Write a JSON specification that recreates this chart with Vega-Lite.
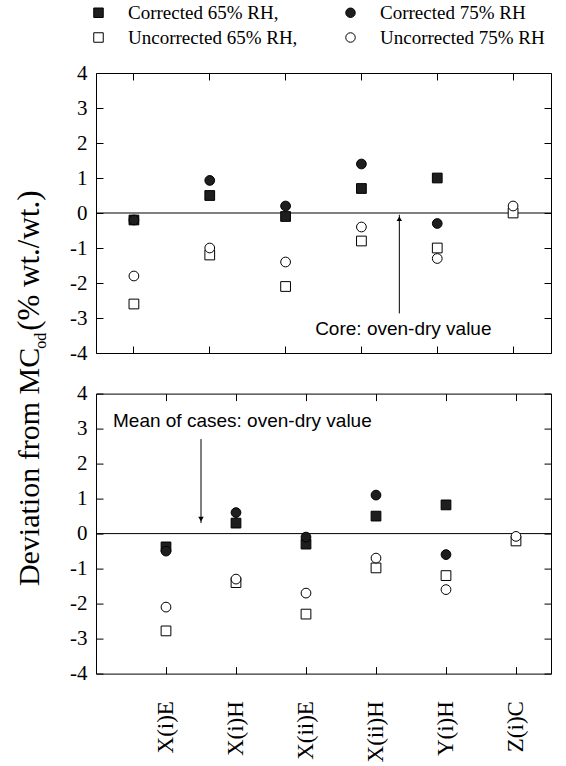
{
  "$schema": "https://vega.github.io/schema/vega-lite/v6.json",
  "padding": {"left": 12, "top": 3, "right": 0, "bottom": 0},
  "bounds": "flush",
  "spacing": 40.6,
  "resolve": {"scale": {"x": "independent", "y": "independent"}},
  "config": {
    "view": {"stroke": "black", "strokeWidth": 1},
    "axis": {
      "grid": false, "domain": false, "tickColor": "black", "tickWidth": 1, "tickSize": -7,
      "labelColor": "black", "labelFont": "Liberation Serif", "titleFont": "Liberation Serif",
      "titleColor": "black", "titleFontWeight": "normal", "labelFlush": false, "labelOverlap": false
    },
    "legend": {
      "orient": "none", "legendX": -7, "legendY": -70, "columns": 2, "direction": "horizontal", "title": null,
      "labelFont": "Liberation Serif", "labelFontSize": 19, "labelColor": "black",
      "symbolSize": 90, "symbolStrokeWidth": 1,
      "labelOffset": 20, "columnPadding": 43, "rowPadding": 5, "labelLimit": 300
    }
  },
  "vconcat": [
    {
      "width": 455,
      "height": 280,
      "layer": [
        {
          "data": {"values": [{"z": 0}]},
          "mark": {"type": "rule", "color": "black", "strokeWidth": 1},
          "encoding": {"y": {"field": "z", "type": "quantitative", "scale": {"domain": [-4, 4], "nice": false, "zero": false}, "axis": null}}
        },
        {
          "data": {"values": [
            {"cat": "X(i)E", "series": "Corrected 65% RH,", "v": -0.2},
            {"cat": "X(i)E", "series": "Uncorrected 65% RH,", "v": -2.6},
            {"cat": "X(i)E", "series": "Corrected 75% RH", "v": -0.2},
            {"cat": "X(i)E", "series": "Uncorrected 75% RH", "v": -1.8},
            {"cat": "X(i)H", "series": "Corrected 65% RH,", "v": 0.5},
            {"cat": "X(i)H", "series": "Uncorrected 65% RH,", "v": -1.2},
            {"cat": "X(i)H", "series": "Corrected 75% RH", "v": 0.93},
            {"cat": "X(i)H", "series": "Uncorrected 75% RH", "v": -1.0},
            {"cat": "X(ii)E", "series": "Corrected 65% RH,", "v": -0.1},
            {"cat": "X(ii)E", "series": "Uncorrected 65% RH,", "v": -2.1},
            {"cat": "X(ii)E", "series": "Corrected 75% RH", "v": 0.2},
            {"cat": "X(ii)E", "series": "Uncorrected 75% RH", "v": -1.4},
            {"cat": "X(ii)H", "series": "Corrected 65% RH,", "v": 0.7},
            {"cat": "X(ii)H", "series": "Uncorrected 65% RH,", "v": -0.8},
            {"cat": "X(ii)H", "series": "Corrected 75% RH", "v": 1.4},
            {"cat": "X(ii)H", "series": "Uncorrected 75% RH", "v": -0.4},
            {"cat": "Y(i)H", "series": "Corrected 65% RH,", "v": 1.0},
            {"cat": "Y(i)H", "series": "Uncorrected 65% RH,", "v": -1.0},
            {"cat": "Y(i)H", "series": "Corrected 75% RH", "v": -0.3},
            {"cat": "Y(i)H", "series": "Uncorrected 75% RH", "v": -1.3},
            {"cat": "Z(i)C", "series": "Uncorrected 65% RH,", "v": 0.0},
            {"cat": "Z(i)C", "series": "Uncorrected 75% RH", "v": 0.2}
          ]},
          "mark": {"type": "point", "filled": true, "strokeWidth": 1, "size": 95, "opacity": 1},
          "encoding": {
            "x": {"field": "cat", "type": "nominal",
              "scale": {"type": "band", "domain": ["X(i)E", "X(i)H", "X(ii)E", "X(ii)H", "Y(i)H", "Z(i)C"], "paddingInner": 0, "paddingOuter": 0},
              "axis": {"orient": "bottom", "labels": false, "title": "od", "titleFont": "Liberation Serif", "titleFontSize": 16, "titleAngle": 270,
                "titleX": -51, "titleY": -12.7, "titleAlign": "center", "titleBaseline": "alphabetic"}},
            "y": {"field": "v", "type": "quantitative", "scale": {"domain": [-4, 4], "nice": false, "zero": false},
              "axis": {"orient": "left", "values": [-4, -3, -2, -1, 0, 1, 2, 3, 4], "labelExpr": "datum.value < 0 ? '-' + abs(datum.value) : '' + datum.value",
                "labelFont": "Liberation Serif", "labelFontSize": 21, "labelPadding": 16,
                "title": "Deviation from MC", "titleFont": "Liberation Serif", "titleFontSize": 30, "titleAngle": 270, "titleX": -58, "titleY": 274.3,
                "titleAlign": "right", "titleBaseline": "alphabetic"}},
            "shape": {"field": "series", "type": "nominal",
              "scale": {"domain": ["Corrected 65% RH,", "Corrected 75% RH", "Uncorrected 65% RH,", "Uncorrected 75% RH"], "range": ["square", "circle", "square", "circle"]}},
            "fill": {"field": "series", "type": "nominal",
              "scale": {"domain": ["Corrected 65% RH,", "Corrected 75% RH", "Uncorrected 65% RH,", "Uncorrected 75% RH"], "range": ["#1e1e1e", "#1e1e1e", "white", "white"]}},
            "stroke": {"field": "series", "type": "nominal",
              "scale": {"domain": ["Corrected 65% RH,", "Corrected 75% RH", "Uncorrected 65% RH,", "Uncorrected 75% RH"], "range": ["black", "black", "black", "black"]}}
          }
        },
        {
          "data": {"values": [{"cat": "X(ii)H", "y": -2.87, "y2": -0.05}]},
          "mark": {"type": "rule", "color": "black", "strokeWidth": 1},
          "encoding": {
            "x": {"field": "cat", "type": "nominal", "bandPosition": 1,
              "scale": {"type": "band", "domain": ["X(i)E", "X(i)H", "X(ii)E", "X(ii)H", "Y(i)H", "Z(i)C"], "paddingInner": 0, "paddingOuter": 0},
              "axis": {"orient": "top", "labels": false, "title": "(% wt./wt.)", "titleFont": "Liberation Serif", "titleFontSize": 31, "titleAngle": 270,
                "titleX": -58, "titleY": 257.3, "titleAlign": "left", "titleBaseline": "alphabetic"}},
            "y": {"field": "y", "type": "quantitative", "scale": {"domain": [-4, 4], "nice": false, "zero": false},
              "axis": {"orient": "right", "values": [-4, -3, -2, -1, 0, 1, 2, 3, 4], "labels": false, "title": null}},
            "y2": {"field": "y2"}
          }
        },
        {
          "data": {"values": [{"cat": "X(ii)H", "y2": -0.05}]},
          "mark": {"type": "point", "shape": "triangle-up", "filled": true, "color": "black", "size": 30, "yOffset": 4, "opacity": 1},
          "encoding": {
            "x": {"field": "cat", "type": "nominal", "bandPosition": 1, "axis": null},
            "y": {"field": "y2", "type": "quantitative", "axis": null}
          }
        },
        {
          "data": {"values": [{"cat": "X(ii)H", "y": -3.3, "label": "Core: oven-dry value"}]},
          "mark": {"type": "text", "font": "Liberation Sans", "fontSize": 19, "color": "black", "align": "center", "baseline": "middle", "dx": 4},
          "encoding": {
            "x": {"field": "cat", "type": "nominal", "bandPosition": 1, "axis": null},
            "y": {"field": "y", "type": "quantitative", "axis": null},
            "text": {"field": "label"}
          }
        }
      ]
    },
    {
      "width": 455,
      "height": 280,
      "layer": [
        {
          "data": {"values": [{"z": 0}]},
          "mark": {"type": "rule", "color": "black", "strokeWidth": 1},
          "encoding": {"y": {"field": "z", "type": "quantitative", "scale": {"domain": [-4, 4], "nice": false, "zero": false}, "axis": null}}
        },
        {
          "data": {"values": [
            {"cat": "X(i)E", "series": "Corrected 65% RH,", "v": -0.38},
            {"cat": "X(i)E", "series": "Uncorrected 65% RH,", "v": -2.78},
            {"cat": "X(i)E", "series": "Corrected 75% RH", "v": -0.5},
            {"cat": "X(i)E", "series": "Uncorrected 75% RH", "v": -2.1},
            {"cat": "X(i)H", "series": "Corrected 65% RH,", "v": 0.3},
            {"cat": "X(i)H", "series": "Uncorrected 65% RH,", "v": -1.4},
            {"cat": "X(i)H", "series": "Corrected 75% RH", "v": 0.6},
            {"cat": "X(i)H", "series": "Uncorrected 75% RH", "v": -1.3},
            {"cat": "X(ii)E", "series": "Corrected 65% RH,", "v": -0.3},
            {"cat": "X(ii)E", "series": "Uncorrected 65% RH,", "v": -2.3},
            {"cat": "X(ii)E", "series": "Corrected 75% RH", "v": -0.1},
            {"cat": "X(ii)E", "series": "Uncorrected 75% RH", "v": -1.7},
            {"cat": "X(ii)H", "series": "Corrected 65% RH,", "v": 0.5},
            {"cat": "X(ii)H", "series": "Uncorrected 65% RH,", "v": -0.98},
            {"cat": "X(ii)H", "series": "Corrected 75% RH", "v": 1.1},
            {"cat": "X(ii)H", "series": "Uncorrected 75% RH", "v": -0.7},
            {"cat": "Y(i)H", "series": "Corrected 65% RH,", "v": 0.82},
            {"cat": "Y(i)H", "series": "Uncorrected 65% RH,", "v": -1.2},
            {"cat": "Y(i)H", "series": "Corrected 75% RH", "v": -0.6},
            {"cat": "Y(i)H", "series": "Uncorrected 75% RH", "v": -1.6},
            {"cat": "Z(i)C", "series": "Uncorrected 65% RH,", "v": -0.21},
            {"cat": "Z(i)C", "series": "Uncorrected 75% RH", "v": -0.08}
          ]},
          "mark": {"type": "point", "filled": true, "strokeWidth": 1, "size": 95, "opacity": 1},
          "encoding": {
            "x": {"field": "cat", "type": "nominal",
              "scale": {"type": "band", "domain": ["X(i)E", "X(i)H", "X(ii)E", "X(ii)H", "Y(i)H", "Z(i)C"], "paddingInner": 0, "paddingOuter": 0.25, "align": 1},
              "axis": {"orient": "bottom", "labelAngle": 270, "labelFont": "Liberation Serif", "labelFontSize": 23, "labelPadding": 34, "title": null}},
            "y": {"field": "v", "type": "quantitative", "scale": {"domain": [-4, 4], "nice": false, "zero": false},
              "axis": {"orient": "left", "values": [-4, -3, -2, -1, 0, 1, 2, 3, 4], "labelExpr": "datum.value < 0 ? '-' + abs(datum.value) : '' + datum.value",
                "labelFont": "Liberation Serif", "labelFontSize": 21, "labelPadding": 16, "title": null}},
            "shape": {"field": "series", "type": "nominal",
              "scale": {"domain": ["Corrected 65% RH,", "Corrected 75% RH", "Uncorrected 65% RH,", "Uncorrected 75% RH"], "range": ["square", "circle", "square", "circle"]}},
            "fill": {"field": "series", "type": "nominal",
              "scale": {"domain": ["Corrected 65% RH,", "Corrected 75% RH", "Uncorrected 65% RH,", "Uncorrected 75% RH"], "range": ["#1e1e1e", "#1e1e1e", "white", "white"]}},
            "stroke": {"field": "series", "type": "nominal",
              "scale": {"domain": ["Corrected 65% RH,", "Corrected 75% RH", "Uncorrected 65% RH,", "Uncorrected 75% RH"], "range": ["black", "black", "black", "black"]}}
          }
        },
        {
          "data": {"values": [{"cat": "X(i)E", "y": 2.7, "y2": 0.3}]},
          "mark": {"type": "rule", "color": "black", "strokeWidth": 1},
          "encoding": {
            "x": {"field": "cat", "type": "nominal", "bandPosition": 1,
              "scale": {"type": "band", "domain": ["X(i)E", "X(i)H", "X(ii)E", "X(ii)H", "Y(i)H", "Z(i)C"], "paddingInner": 0, "paddingOuter": 0.25, "align": 1},
              "axis": {"orient": "top", "labels": false, "title": null}},
            "y": {"field": "y", "type": "quantitative", "scale": {"domain": [-4, 4], "nice": false, "zero": false},
              "axis": {"orient": "right", "values": [-4, -3, -2, -1, 0, 1, 2, 3, 4], "labels": false, "title": null}},
            "y2": {"field": "y2"}
          }
        },
        {
          "data": {"values": [{"cat": "X(i)E", "y2": 0.3}]},
          "mark": {"type": "point", "shape": "triangle-down", "filled": true, "color": "black", "size": 30, "yOffset": -4, "opacity": 1},
          "encoding": {
            "x": {"field": "cat", "type": "nominal", "bandPosition": 1, "axis": null},
            "y": {"field": "y2", "type": "quantitative", "axis": null}
          }
        },
        {
          "data": {"values": [{"cat": "X(i)E", "y": 3.23, "label": "Mean of cases: oven-dry value"}]},
          "mark": {"type": "text", "font": "Liberation Sans", "fontSize": 19, "color": "black", "align": "left", "baseline": "middle", "dx": -18},
          "encoding": {
            "x": {"field": "cat", "type": "nominal", "bandPosition": 0, "axis": null},
            "y": {"field": "y", "type": "quantitative", "axis": null},
            "text": {"field": "label"}
          }
        }
      ]
    }
  ]
}
